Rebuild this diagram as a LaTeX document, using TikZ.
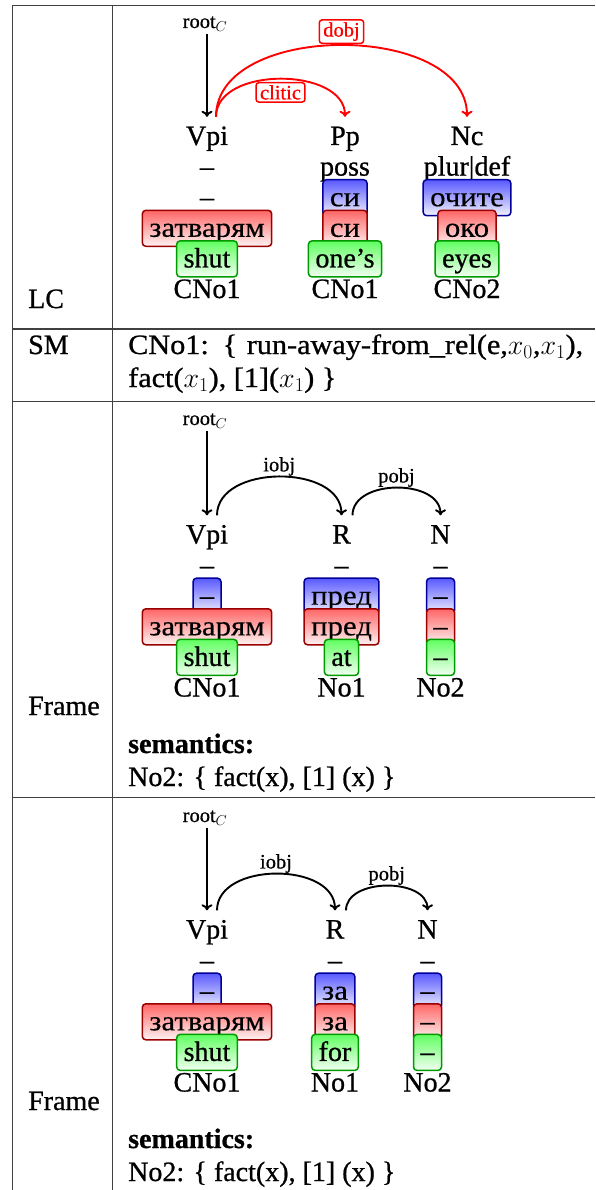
\RequirePackage{fix-cm}
\documentclass[tikz,border=0pt]{standalone}
\usepackage{fontspec}
\usetikzlibrary{arrows.meta}
\setmainfont{Liberation Serif}[FakeBold=0.8]
\newfontfamily\cyr{Liberation Serif}[FakeStretch=1.1,FakeBold=0.3]
\newfontfamily\smfam{Liberation Serif}[FakeStretch=1.08,FakeBold=0.8]
\newcommand\bigfnt{\fontsize{28}{33}\selectfont}
\newcommand\smallfnt{\fontsize{20.5}{24}\selectfont}
\tikzset{
  word/.style={anchor=base, font=\bigfnt, text height=19pt, text depth=5pt, inner xsep=0pt, inner ysep=9pt},
  hdr/.style={anchor=base west, font=\bigfnt, inner sep=0pt},
  rootlbl/.style={anchor=base, font=\smallfnt, inner sep=0pt},
  wbox/.style={anchor=base, font=\bigfnt, text height=20pt, text depth=3pt, inner xsep=7pt, inner ysep=6.5pt, rounded corners=3.5pt, line width=1.5pt},
  bluebox/.style={wbox, draw=blue!60!black, top color=blue!65, bottom color=blue!5},
  redbox/.style={wbox, draw=red!60!black, top color=red!60, bottom color=red!5},
  greenbox/.style={wbox, draw=green!60!black, top color=green!62, bottom color=green!5},
  dep/.style={-{To[length=6pt,width=11pt]}, line width=1.9pt},
  reddep/.style={dep, red},
  redlbl/.style={font=\smallfnt, text=red, draw=red, fill=white, rounded corners=3pt, line width=1.5pt, inner xsep=4pt, inner ysep=2.5pt},
  blklbl/.style={font=\smallfnt, inner sep=0pt},
  rule/.style={line width=1.6pt, black!75},
}
\begin{document}
\begin{tikzpicture}[x=1pt,y=-1pt]
\useasboundingbox (0,0) rectangle (595,1190);
% table rules
\draw[rule] (12.5,1190) -- (12.5,5.5) -- (595,5.5);
\draw[rule] (112.5,5.5) -- (112.5,1190);
\draw[rule] (12.5,329) -- (595,329);
\draw[rule] (12.5,401.5) -- (595,401.5);
\draw[rule] (12.5,797.5) -- (595,797.5);
% left column
\node[hdr] (lc) at (28,308) {LC};
\node[hdr] (sm) at (28,354) {SM};
\node[hdr] (frameA) at (28,715) {Frame};
\node[hdr] (frameB) at (28,1110) {Frame};
% SM row
\node[hdr] (smA) at (128,354) {\smfam\makebox[455pt][s]{CNo1: \{ run-away-from\_rel(e,$x_0$,$x_1$),}};
\node[hdr] (smB) at (128,387) {\smfam fact($x_1$), [1]($x_1$) \}};
% semantics
\node[hdr] (semA) at (128,753) {\textbf{semantics:}};
\node[hdr] (semAt) at (128,786) {No2: \{ fact(x), [1] (x) \}};
\node[hdr] (semB) at (128,1148) {\textbf{semantics:}};
\node[hdr] (semBt) at (128,1181) {No2: \{ fact(x), [1] (x) \}};

% ===== LC diagram =====
\node[rootlbl] (rootA) at (205,28) {root$_C$};
\node[word] (vpiA) at (207,145) {Vpi};
\node[word] (ppA) at (345,145) {Pp};
\node[word] (ncA) at (467,145) {Nc};
\draw[dep, shorten <=3pt] (rootA.south -| vpiA.north) -- (vpiA.north);
\draw[reddep] ([xshift=9pt]vpiA.north) .. controls +(0,-96) and +(0,-95) .. (ncA.north)
  node[pos=.5, above=1pt, redlbl] (dobjA) {dobj};
\draw[reddep] ([xshift=9pt]vpiA.north) .. controls +(0,-51) and +(0,-50) .. (ppA.north)
  node[pos=.5, below=3pt, redlbl] (cliticA) {clitic};
\node[word] (a21) at (207,175.6) {--};
\node[word] (a22) at (345,175.6) {poss};
\node[word] (a23) at (467,175.6) {plur|def};
\node[word] (a31) at (207,206.2) {--};
\node[bluebox] (a32) at (345,206.2) {\cyr си};
\node[bluebox] (a33) at (467,206.2) {\cyr очите};
\node[redbox] (a41) at (207,236.8) {\cyr затварям};
\node[redbox] (a42) at (345,236.8) {\cyr си};
\node[redbox] (a43) at (467,236.8) {\cyr око};
\node[greenbox] (a51) at (207,267.4) {shut};
\node[greenbox] (a52) at (345,267.4) {one’s};
\node[greenbox] (a53) at (467,267.4) {eyes};
\node[word] (a61) at (207,298) {CNo1};
\node[word] (a62) at (345,298) {CNo1};
\node[word] (a63) at (467,298) {CNo2};

% ===== Frame 1 =====
\node[rootlbl] (rootB) at (205,425) {root$_C$};
\node[word] (vpiB) at (207,543.5) {Vpi};
\node[word] (rB) at (341.5,543.5) {R};
\node[word] (nB) at (440.5,543.5) {N};
\draw[dep, shorten <=3pt] (rootB.south -| vpiB.north) -- (vpiB.north);
\draw[dep] ([xshift=10pt]vpiB.north) .. controls +(0,-51.5) and +(0,-51.5) .. (rB.north)
  node[pos=.5, above=0pt, blklbl] (iobjB) {iobj};
\draw[dep] ([xshift=11pt]rB.north) .. controls +(0,-36.7) and +(0,-36.7) .. (nB.north)
  node[pos=.5, above=0pt, blklbl] (pobjB) {pobj};
\node[word] (b21) at (207,574.1) {--};
\node[word] (b22) at (341.5,574.1) {--};
\node[word] (b23) at (440.5,574.1) {--};
\node[bluebox] (b31) at (207,604.7) {--};
\node[bluebox] (b32) at (341.5,604.7) {\cyr пред};
\node[bluebox] (b33) at (440.5,604.7) {--};
\node[redbox] (b41) at (207,635.3) {\cyr затварям};
\node[redbox] (b42) at (341.5,635.3) {\cyr пред};
\node[redbox] (b43) at (440.5,635.3) {--};
\node[greenbox] (b51) at (207,665.9) {shut};
\node[greenbox] (b52) at (341.5,665.9) {at};
\node[greenbox] (b53) at (440.5,665.9) {--};
\node[word] (b61) at (207,696.5) {CNo1};
\node[word] (b62) at (341.5,696.5) {No1};
\node[word] (b63) at (440.5,696.5) {No2};

% ===== Frame 2 =====
\node[rootlbl] (rootC) at (205,822) {root$_C$};
\node[word] (vpiC) at (207,938.5) {Vpi};
\node[word] (rC) at (335,938.5) {R};
\node[word] (nC) at (427.5,938.5) {N};
\draw[dep, shorten <=3pt] (rootC.south -| vpiC.north) -- (vpiC.north);
\draw[dep] ([xshift=10pt]vpiC.north) .. controls +(0,-48.7) and +(0,-48.7) .. (rC.north)
  node[pos=.5, above=0pt, blklbl] (iobjC) {iobj};
\draw[dep] ([xshift=11pt]rC.north) .. controls +(0,-32.7) and +(0,-32.7) .. (nC.north)
  node[pos=.5, above=0pt, blklbl] (pobjC) {pobj};
\node[word] (c21) at (207,969.1) {--};
\node[word] (c22) at (335,969.1) {--};
\node[word] (c23) at (427.5,969.1) {--};
\node[bluebox] (c31) at (207,999.7) {--};
\node[bluebox] (c32) at (335,999.7) {\cyr за};
\node[bluebox] (c33) at (427.5,999.7) {--};
\node[redbox] (c41) at (207,1030.3) {\cyr затварям};
\node[redbox] (c42) at (335,1030.3) {\cyr за};
\node[redbox] (c43) at (427.5,1030.3) {--};
\node[greenbox] (c51) at (207,1060.9) {shut};
\node[greenbox] (c52) at (335,1060.9) {for};
\node[greenbox] (c53) at (427.5,1060.9) {--};
\node[word] (c61) at (207,1091.5) {CNo1};
\node[word] (c62) at (335,1091.5) {No1};
\node[word] (c63) at (427.5,1091.5) {No2};
\end{tikzpicture}
\end{document}
